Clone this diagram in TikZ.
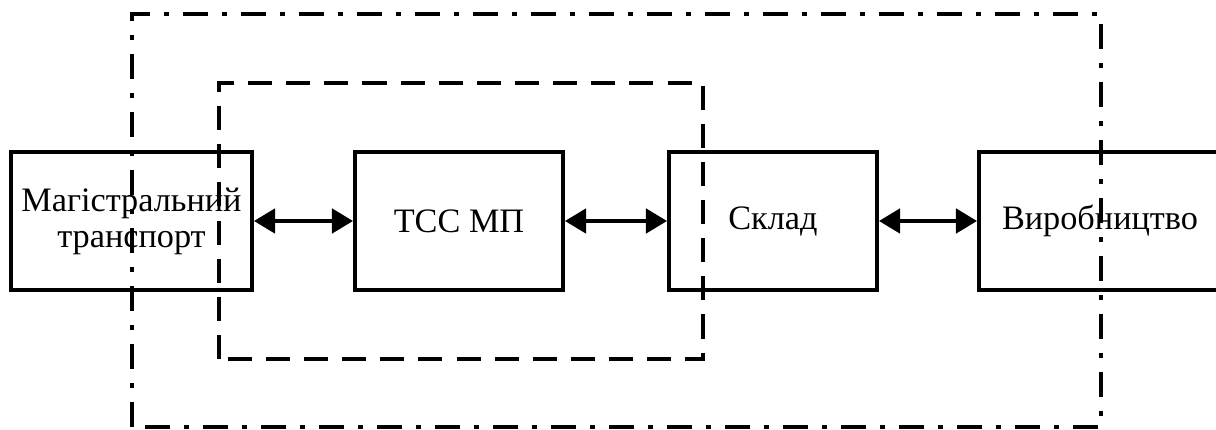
\documentclass[tikz,border=0pt]{standalone}
\usepackage{fontspec}
\setmainfont{Liberation Serif}
\usetikzlibrary{arrows.meta}

\tikzset{
    blk/.style={draw, line width=2.3pt, minimum height=2.76cm, inner sep=0pt,
        align=center, font=\fontsize{19.5}{20.5}\selectfont},
    link/.style={{Triangle[length=12pt,width=14pt]}-{Triangle[length=12pt,width=14pt]}, line width=1.8pt},
    dashframe/.style={line width=2.3pt, dash pattern=on 13.7pt off 8pt},
    dotframe/.style={line width=2pt, dash pattern=on 14.2pt off 8pt on 2.8pt off 8pt}
}

\begin{document}
\begin{tikzpicture}
        \useasboundingbox (0,0) rectangle (24.32,8.6);

        % Blocks
        \node[blk, minimum width=4.82cm] (mag) at (2.63,4.18) {Магістральний\\транспорт};
        \node[blk, minimum width=4.16cm] (tss) at (9.18,4.18) {ТСС МП};
        \node[blk, minimum width=4.16cm] (sklad) at (15.46,4.18) {Склад};
        \node[blk, minimum width=4.84cm] (vyr) at (22.0,4.18) {Виробництво};

        % Links
        \draw[link] (mag) -- (tss);
        \draw[link] (tss) -- (sklad);
        \draw[link] (sklad) -- (vyr);

        % Frames
        \draw[dashframe] (4.38,1.42) rectangle (14.06,6.94);
        \draw[dotframe] (2.64,0.06) rectangle (22.02,8.32);

    \end{tikzpicture}
\end{document}
